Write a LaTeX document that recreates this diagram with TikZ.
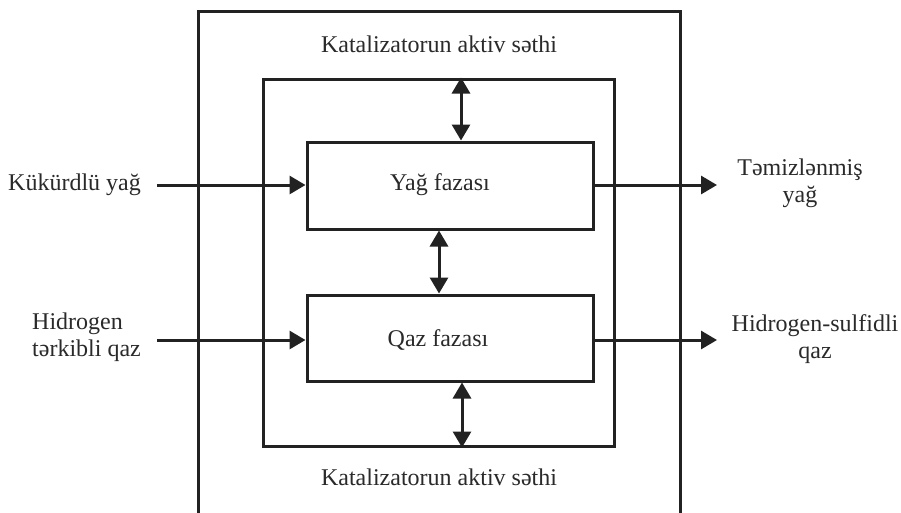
\documentclass[tikz,border=0pt]{standalone}
\usepackage{fontspec}
\setmainfont{Liberation Serif}
\usetikzlibrary{arrows.meta}
\definecolor{ink}{HTML}{222222}
\definecolor{txt}{HTML}{2A2A2A}
\tikzset{
  box/.style={draw=ink, line width=3pt, inner sep=0pt, fill=none},
  lbl/.style={text=txt, inner sep=0pt, font=\fontsize{24}{27}\selectfont},
  flow/.style={draw=ink, line width=3pt, -{Triangle[length=16pt,width=18pt]}},
  dbl/.style={draw=ink, line width=3pt, {Triangle[length=16pt,width=18pt]}-{Triangle[length=16pt,width=18pt]}}
}
\begin{document}
\begin{tikzpicture}[x=1pt,y=-1pt]
\useasboundingbox (0,0) rectangle (901,512);
\fill[white] (0,0) rectangle (901,512);
% boxes
\node[box, minimum width=482pt, minimum height=506pt] (outer) at (439,264.5) {};
\node[box, minimum width=351pt, minimum height=367pt] (inner) at (438.5,262.5) {};
\node[box, minimum width=286pt, minimum height=87pt] (yag) at (450,185.5) {};
\node[box, minimum width=286pt, minimum height=86pt] (qaz) at (450,338) {};
% texts
\node[lbl] (ktop) at (439,44) {Katalizatorun aktiv səthi};
\node[lbl] (kbot) at (439,477) {Katalizatorun aktiv səthi};
\node[lbl] (tyag) at (440,185) {Yağ fazası};
\node[lbl] (tqaz) at (438,340) {Qaz fazası};
\node[lbl, anchor=west] (inyag) at (8,185) {Kükürdlü yağ};
\node[lbl, anchor=west, align=left] (ingas) at (32,337) {Hidrogen\\tərkibli qaz};
\node[lbl, align=center] (outyag) at (800,183) {Təmizlənmiş\\yağ};
\node[lbl, align=center] (outgas) at (815,339) {Hidrogen-sulfidli\\qaz};
% coordinates
\coordinate (a1) at (461,0);
\coordinate (a2) at (439,0);
\coordinate (a3) at (462,0);
\coordinate (in1) at (157,185);
\coordinate (in2) at (157,340);
\coordinate (o1) at (717,185);
\coordinate (o2) at (717,340);
% flows
\draw[flow] (in1) -- (in1 -| yag.west);
\draw[flow] (in2) -- (in2 -| qaz.west);
\draw[flow] (o1 -| yag.east) -- (o1);
\draw[flow] (o2 -| qaz.east) -- (o2);
% exchanges
\draw[dbl] (inner.north -| a1) -- (yag.north -| a1);
\draw[dbl] (yag.south -| a2) -- (qaz.north -| a2);
\draw[dbl] (qaz.south -| a3) -- (inner.south -| a3);
\end{tikzpicture}
\end{document}
